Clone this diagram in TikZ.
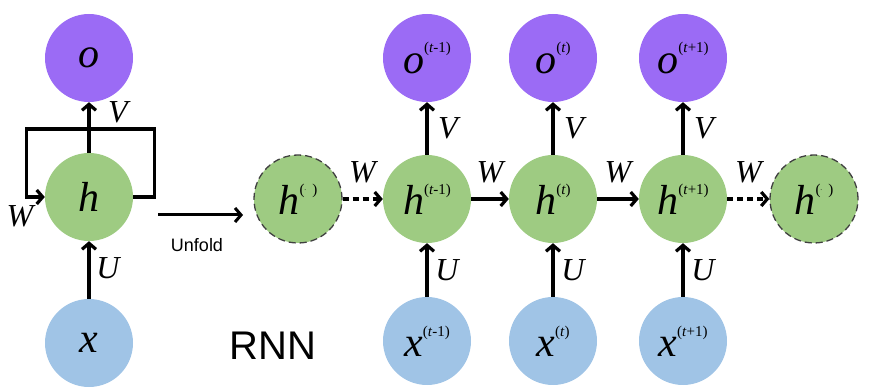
\documentclass[tikz,border=0pt]{standalone}
\usepackage{fontspec}
\setmainfont{Liberation Serif}
\setsansfont{Liberation Sans}
\usetikzlibrary{arrows.meta,positioning,calc}
\definecolor{cPurple}{RGB}{155,107,245}
\definecolor{cGreen}{RGB}{158,203,130}
\definecolor{cBlue}{RGB}{160,196,230}
\newcommand{\stepsup}[1]{\raisebox{1.05ex}{\upshape\fontsize{15}{15}\selectfont(#1)}}
\tikzset{
  basecirc/.style={circle,minimum size=88pt,inner sep=0pt,
                   font=\fontsize{42}{42}\selectfont\itshape},
  outnode/.style={basecirc,fill=cPurple},
  hidnode/.style={basecirc,fill=cGreen},
  innode/.style={basecirc,fill=cBlue},
  dashnode/.style={hidnode,draw=black!75,dash pattern=on 7pt off 4pt,line width=1.3pt},
  arr/.style={-{Straight Barb[length=6pt,width=14pt]},line width=3.2pt},
  dasharr/.style={arr,dash pattern=on 6pt off 4pt},
  wlabel/.style={font=\fontsize{32}{32}\selectfont\itshape,inner sep=0pt}
}

\begin{document}
\begin{tikzpicture}[x=1pt,y=-1pt]
  \useasboundingbox (0,0) rectangle (871,390);

  % folded network
  \node[outnode] (o) at (89,58) {o};
  \node[hidnode] (h) at (89,197) {h};
  \node[innode]  (x) at (89,343) {x};
  \draw[arr] (x.north) -- (h.south);
  \draw[arr] (h.north) -- (o.south);
  \draw[arr] (h.east) -- ++(21,0) -- ++(0,-68) -- ++(-128,0) -- ++(0,68) -- (h.west);
  \node[wlabel] at (118,112) {V};
  \node[wlabel] at (108,268) {U};
  \node[wlabel] at (20,216) {W};

  % unfold arrow
  \coordinate (ua) at (158,215);
  \coordinate (ub) at (243,215);
  \draw[-{Straight Barb[length=6pt,width=14pt]},line width=3pt] (ua) -- (ub);
  \node[font=\sffamily\fontsize{18}{18}\selectfont] at (197,245) {Unfold};
  \node[font=\sffamily\fontsize{40}{40}\selectfont] at (273,346) {RNN};

  % unfolded network
  \node[dashnode] (hd1) at (298,199) {h\stepsup{\raisebox{.35ex}{\tiny-}\ \,}};
  \node[hidnode] (h1) at (427,199) {h\stepsup{\textit{t}-1}};
  \node[hidnode] (h2) at (553,199) {h\stepsup{\textit{t}}};
  \node[hidnode] (h3) at (683,199) {h\stepsup{\textit{t}+1}};
  \node[dashnode] (hd2) at (814,199) {h\stepsup{\raisebox{.35ex}{\tiny-}\ \,}};

  \node[outnode] (o1) at (427,58) {o\stepsup{\textit{t}-1}};
  \node[outnode] (o2) at (553,58) {o\stepsup{\textit{t}}};
  \node[outnode] (o3) at (683,58) {o\stepsup{\textit{t}+1}};

  \node[innode] (x1) at (427,341) {x\stepsup{\textit{t}-1}};
  \node[innode] (x2) at (553,341) {x\stepsup{\textit{t}}};
  \node[innode] (x3) at (683,341) {x\stepsup{\textit{t}+1}};

  \draw[dasharr] (hd1.east) -- (h1.west);
  \draw[arr] (h1.east) -- (h2.west);
  \draw[arr] (h2.east) -- (h3.west);
  \draw[dasharr] (h3.east) -- (hd2.west);

  \draw[arr] (h1.north) -- (o1.south);
  \draw[arr] (h2.north) -- (o2.south);
  \draw[arr] (h3.north) -- (o3.south);
  \draw[arr] (x1.north) -- (h1.south);
  \draw[arr] (x2.north) -- (h2.south);
  \draw[arr] (x3.north) -- (h3.south);

  \node[wlabel] at ($(h1)!0.5!(o1)+(21,0)$) {V};
  \node[wlabel] at ($(h2)!0.5!(o2)+(21,0)$) {V};
  \node[wlabel] at ($(h3)!0.5!(o3)+(21,0)$) {V};
  \node[wlabel] at ($(h1)!0.5!(x1)+(20,0)$) {U};
  \node[wlabel] at ($(h2)!0.5!(x2)+(20,0)$) {U};
  \node[wlabel] at ($(h3)!0.5!(x3)+(20,0)$) {U};
  \node[wlabel] at ($(hd1)!0.5!(h1)+(0,-27)$) {W};
  \node[wlabel] at ($(h1)!0.5!(h2)+(0,-27)$) {W};
  \node[wlabel] at ($(h2)!0.5!(h3)+(0,-27)$) {W};
  \node[wlabel] at ($(h3)!0.5!(hd2)+(0,-27)$) {W};
\end{tikzpicture}
\end{document}
